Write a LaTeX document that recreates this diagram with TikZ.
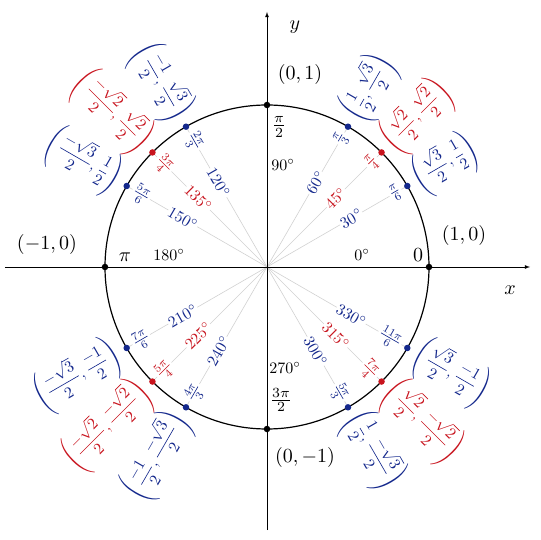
\documentclass[tikz,border=0pt]{standalone}
\usepackage{amsmath}
\definecolor{ublue}{RGB}{20,40,140}
\definecolor{ured}{RGB}{200,20,30}
\tikzset{
  ray/.style={draw=black!18, line width=0.6pt},
  dot/.style={circle, fill, inner sep=0pt, minimum size=6.5pt},
  lab/.style={inner sep=0.6pt, scale=1.6},
  big/.style={inner sep=0.6pt, scale=2},
  small/.style={inner sep=0.6pt, fill=white, scale=1.6},
}
\begin{document}
\begin{tikzpicture}[x=162pt,y=162pt]
    \useasboundingbox (-267pt,-273pt) rectangle (273pt,267pt);
    \coordinate (o) at (0,0);
    \coordinate (xl) at (-262pt,0); \coordinate (xr) at (263pt,0);
    \coordinate (yb) at (0,-263pt); \coordinate (yt) at (0,255pt);

    % rays and labels for the non-axis angles
    \foreach \a/\r/\so/\si/\c/\rad/\pt in {
        30/30/west/east/ublue/{\frac{\pi}{6}}/{\frac{\sqrt{3}}{2},\frac{1}{2}},
        45/45/west/east/ured/{\frac{\pi}{4}}/{\frac{\sqrt{2}}{2},\frac{\sqrt{2}}{2}},
        60/60/west/east/ublue/{\frac{\pi}{3}}/{\frac{1}{2},\frac{\sqrt{3}}{2}},
        120/-60/east/west/ublue/{\frac{2\pi}{3}}/{\frac{-1}{2},\frac{\sqrt{3}}{2}},
        135/-45/east/west/ured/{\frac{3\pi}{4}}/{\frac{-\sqrt{2}}{2},\frac{\sqrt{2}}{2}},
        150/-30/east/west/ublue/{\frac{5\pi}{6}}/{\frac{-\sqrt{3}}{2},\frac{1}{2}},
        210/30/east/west/ublue/{\frac{7\pi}{6}}/{\frac{-\sqrt{3}}{2},\frac{-1}{2}},
        225/45/east/west/ured/{\frac{5\pi}{4}}/{\frac{-\sqrt{2}}{2},\frac{-\sqrt{2}}{2}},
        240/60/east/west/ublue/{\frac{4\pi}{3}}/{\frac{-1}{2},\frac{-\sqrt{3}}{2}},
        300/-60/west/east/ublue/{\frac{5\pi}{3}}/{\frac{1}{2},\frac{-\sqrt{3}}{2}},
        315/-45/west/east/ured/{\frac{7\pi}{4}}/{\frac{\sqrt{2}}{2},\frac{-\sqrt{2}}{2}},
        330/-30/west/east/ublue/{\frac{11\pi}{6}}/{\frac{\sqrt{3}}{2},\frac{-1}{2}}}
    {
        \coordinate (p\a) at (\a:1);
        \draw [ray] (o) -- (p\a);
        \node [small, text=\c, rotate=\r] (d\a) at (\a:0.6) {$\a^\circ$};
        \node [small, text=\c, rotate=\r, anchor=\si] (r\a) at (\a:0.96) {$\rad$};
        \node [lab, text=\c, rotate=\r, anchor=\so] (c\a) at (\a:1.05) {$\displaystyle\left(\pt\right)$};
    }

    \draw [line width=1.2pt] (o) circle (1);
    \draw [-latex, line width=0.8pt] (xl) -- (xr);
    \draw [-latex, line width=0.8pt] (yb) -- (yt);
    \node [big] (xn) at (243pt,-23pt) {$x$};
    \node [big] (yn) at (28pt,240pt) {$y$};

    \foreach \a/\r/\c in {30/30/ublue,45/45/ured,60/60/ublue,120/-60/ublue,135/-45/ured,150/-30/ublue,
        210/30/ublue,225/45/ured,240/60/ublue,300/-60/ublue,315/-45/ured,330/-30/ublue}
        \node [dot, fill=\c] (q\a) at (p\a) {};

    % axis points
    \node [dot] (e0) at (0:1) {};
    \node [dot] (e90) at (90:1) {};
    \node [dot] (e180) at (180:1) {};
    \node [dot] (e270) at (270:1) {};
    \node [big] (c0) at (197pt,31pt) {$(1,0)$};
    \node [big] (r0) at (151pt,12pt) {$0$};
    \node [small, fill=none] (d0) at (95pt,12pt) {$0^\circ$};
    \node [big] (c90) at (33pt,192pt) {$(0,1)$};
    \node [big] (r90) at (12pt,140pt) {$\frac{\pi}{2}$};
    \node [small, fill=none] (d90) at (16pt,102pt) {$90^\circ$};
    \node [big] (c180) at (-220pt,22pt) {$(-1,0)$};
    \node [big] (r180) at (-142pt,10pt) {$\pi$};
    \node [small, fill=none] (d180) at (-98pt,12pt) {$180^\circ$};
    \node [big] (c270) at (38pt,-190pt) {$(0,-1)$};
    \node [big] (r270) at (14pt,-133pt) {$\frac{3\pi}{2}$};
    \node [small, fill=none] (d270) at (18pt,-101pt) {$270^\circ$};
\end{tikzpicture}
\end{document}
